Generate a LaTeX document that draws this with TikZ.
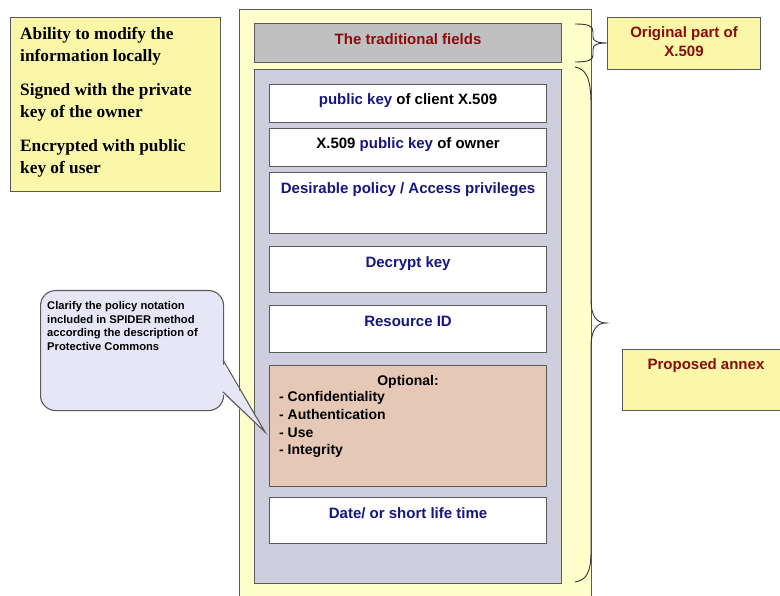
\documentclass[tikz,border=0pt]{standalone}
\usepackage{fontspec}
\setmainfont{Liberation Sans}
\newfontfamily\serifbf{Liberation Serif}
\definecolor{outery}{RGB}{255,255,204}
\definecolor{labely}{RGB}{250,248,168}
\definecolor{greyf}{RGB}{192,192,192}
\definecolor{lav}{RGB}{206,206,222}
\definecolor{salmon}{RGB}{230,200,182}
\definecolor{callf}{RGB}{230,230,246}
\definecolor{bord}{RGB}{90,90,90}
\definecolor{dred}{RGB}{140,10,10}
\definecolor{navy}{RGB}{22,22,130}
\tikzset{
  box/.style={draw=bord, line width=1.1pt, anchor=north west, inner sep=0pt},
  txt/.style={inner sep=0pt, font=\fontsize{15}{18}\selectfont\bfseries},
  ltxt/.style={inner sep=0pt, anchor=base west, font=\fontsize{14}{17}\selectfont\bfseries},
  stxt/.style={inner sep=0pt, anchor=base west, font=\serifbf\fontsize{17.3}{20}\selectfont\bfseries},
  ctxt/.style={inner sep=0pt, anchor=base west, font=\fontsize{11.2}{13}\selectfont\bfseries},
  bracel/.style={draw=black!80, line width=0.9pt},
}
\begin{document}
\begin{tikzpicture}[x=1pt,y=-1pt]
\useasboundingbox (0,0) rectangle (780,596);
% left note
\node[box, fill=labely, minimum width=210pt, minimum height=174pt] (note) at (10,17) {};
\node[stxt] (n1) at (20,40) {Ability to modify the};
\node[stxt] (n2) at (20,62) {information locally};
\node[stxt] (n3) at (20,96) {Signed with the private};
\node[stxt] (n4) at (20,118) {key of the owner};
\node[stxt] (n5) at (20,152) {Encrypted with public};
\node[stxt] (n6) at (20,174) {key of user};
% outer certificate
\node[box, fill=outery, minimum width=352pt, minimum height=600pt] (cert) at (239,9) {};
\node[box, fill=greyf, minimum width=307pt, minimum height=39pt] (trad) at (254,23) {};
\node[txt, text=dred] (tradt) at ([yshift=-16pt]trad.north) {The traditional fields};
\node[box, fill=lav, minimum width=307pt, minimum height=514pt] (annex) at (254,69) {};
% fields
\node[box, fill=white, minimum width=277pt, minimum height=38pt] (f1) at (269,84) {};
\node[txt] (f1t) at ([yshift=-17pt]f1.north) {\textcolor{navy}{public key} of client X.509};
\node[box, fill=white, minimum width=277pt, minimum height=38pt] (f2) at (269,128) {};
\node[txt] (f2t) at ([yshift=-16.5pt]f2.north) {X.509 \textcolor{navy}{public key} of owner};
\node[box, fill=white, minimum width=277pt, minimum height=61pt] (f3) at (269,172) {};
\node[txt, text=navy] (f3t) at ([yshift=-17.5pt]f3.north) {Desirable policy / Access privileges};
\node[box, fill=white, minimum width=277pt, minimum height=46pt] (f4) at (269,246) {};
\node[txt, text=navy] (f4t) at ([yshift=-17.5pt]f4.north) {Decrypt key};
\node[box, fill=white, minimum width=277pt, minimum height=47pt] (f5) at (269,305) {};
\node[txt, text=navy] (f5t) at ([yshift=-16pt]f5.north) {Resource ID};
\node[box, fill=salmon, minimum width=277pt, minimum height=121pt] (opt) at (269,365) {};
\node[txt, font=\fontsize{14}{17}\selectfont\bfseries] (optt) at ([yshift=-16.5pt]opt.north) {Optional:};
\node[ltxt] (o1) at (279,402) {- Confidentiality};
\node[ltxt] (o2) at (279,419.5) {- Authentication};
\node[ltxt] (o3) at (279,437) {- Use};
\node[ltxt] (o4) at (279,454.5) {- Integrity};
\node[box, fill=white, minimum width=277pt, minimum height=46pt] (f6) at (269,497) {};
\node[txt, text=navy] (f6t) at ([yshift=-16pt]f6.north) {Date/ or short life time};
% right labels
\node[box, fill=labely, minimum width=153pt, minimum height=52pt] (orig) at (607,17) {};
\node[txt, text=dred, align=center, font=\fontsize{15}{19}\selectfont\bfseries] (origt) at ([yshift=-25pt]orig.north) {Original part of\\X.509};
\node[box, fill=labely, minimum width=168pt, minimum height=61pt] (prop) at (622,349) {};
\node[txt, text=dred, anchor=center] (propt) at (706,366) {Proposed annex};
% braces
\coordinate (b1a) at (575,24);
\coordinate (b1tip) at (607,43);
\coordinate (b1b) at (575,62);
\draw[bracel] (b1a) .. controls (589,24) and (593,26) .. (593,32) -- (593,37)
  .. controls (593,41) and (597,43) .. (b1tip)
  .. controls (597,43) and (593,45) .. (593,49) -- (593,55)
  .. controls (593,60) and (589,62) .. (b1b);
\coordinate (b2a) at (575,67);
\coordinate (b2tip) at (606,323);
\coordinate (b2b) at (575,582);
\draw[bracel] (b2a) .. controls (587,69) and (591,80) .. (591,105) -- (591,300)
  .. controls (591,315) and (596,323) .. (b2tip)
  .. controls (596,323) and (591,331) .. (591,347) -- (591,550)
  .. controls (591,572) and (587,580) .. (b2b);
% callout
\node[draw=bord, line width=1.1pt, fill=callf, rounded corners=15pt, anchor=north west, inner sep=0pt, minimum width=183pt, minimum height=120pt] (call) at (40,290) {};
\coordinate (ctip) at (265,432);
\fill[callf] (220.5,360) -- (ctip) -- (220.5,392) -- cycle;
\draw[draw=bord, line width=1.1pt, line join=miter] (223,360) -- (ctip) -- (223,392);
\node[ctxt] (c1) at (47,310) {Clarify the policy notation};
\node[ctxt] (c2) at (47,323.5) {included in SPIDER method};
\node[ctxt] (c3) at (47,337) {according the description of};
\node[ctxt] (c4) at (47,350.5) {Protective Commons};
\end{tikzpicture}
\end{document}
